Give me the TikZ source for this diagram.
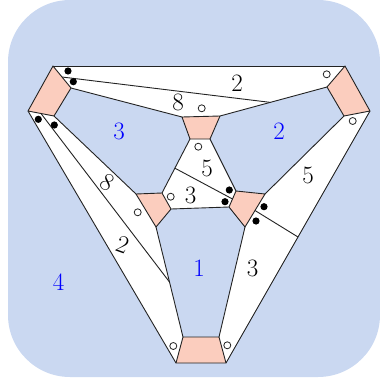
\documentclass[tikz,border=0pt]{standalone}
\usetikzlibrary{calc}
\definecolor{bgblue}{RGB}{202,216,241}
\definecolor{vpink}{RGB}{251,205,190}
\definecolor{edgecol}{RGB}{35,35,35}
\begin{document}
\begin{tikzpicture}[x=1pt,y=-1pt,
  edge/.style={draw=edgecol,line width=0.9pt,line join=round},
  vert/.style={fill=vpink,draw=edgecol,line width=0.9pt,line join=round},
  band/.style={fill=white},
  lab/.style={font=\fontsize{25}{30}\selectfont,inner sep=0pt},
  face/.style={font=\fontsize{25}{30}\selectfont,inner sep=0pt,text=blue},
  bdot/.style={fill=black,circle,inner sep=0pt,minimum size=7.2pt},
  odot/.style={draw=edgecol,fill=white,circle,line width=0.8pt,inner sep=0pt,minimum size=7pt}]
\useasboundingbox (0,0) rectangle (380,381);
\fill[bgblue,rounded corners=62pt] (8,0) rectangle (380,377);
% vertices
\coordinate (A1) at (53,66); \coordinate (A2) at (71,88);
\coordinate (A3) at (54,116); \coordinate (A4) at (28,111);
\coordinate (B1) at (345,66); \coordinate (B2) at (370,111);
\coordinate (B3) at (344,116); \coordinate (B4) at (327,87);
\coordinate (C1) at (183,337); \coordinate (C2) at (219,337);
\coordinate (C3) at (226,363); \coordinate (C4) at (176,363);
\coordinate (D1) at (182,117); \coordinate (D2) at (220,116);
\coordinate (D3) at (210,139); \coordinate (D4) at (190,139);
\coordinate (E1) at (136,194); \coordinate (E2) at (162,193);
\coordinate (E3) at (171,209); \coordinate (E4) at (156,227);
\coordinate (F1) at (229,207); \coordinate (F2) at (236,191);
\coordinate (F3) at (265,194); \coordinate (F4) at (245,227);
% split points
\coordinate (MA) at ($(A1)!0.5!(A2)$);
\coordinate (MAb) at ($(A3)!0.5!(A4)$);
\coordinate (MF) at ($(F1)!0.5!(F2)$);
\coordinate (MFb) at ($(F3)!0.5!(F4)$);
\coordinate (P) at ($(B4)!0.53!(D2)$);
\coordinate (Q) at ($(E4)!0.5!(C1)$);
\coordinate (R) at ($(B2)!0.5!(C3)$);
\coordinate (S) at ($(D4)!0.54!(E2)$);
% white bands
\fill[band] (A1) -- (B1) -- (B4) -- (D2) -- (D1) -- (A2) -- cycle;
\fill[band] (A4) -- (C4) -- (C1) -- (E4) -- (E1) -- (A3) -- cycle;
\fill[band] (B2) -- (C3) -- (C2) -- (F4) -- (F3) -- (B3) -- cycle;
\fill[band] (D4) -- (D3) -- (F2) -- (F1) -- (E3) -- (E2) -- cycle;
% band edges
\draw[edge] (A1) -- (B1);
\draw[edge] (B4) -- (D2);
\draw[edge] (A2) -- (D1);
\draw[edge] (MA) -- (P);
\draw[edge] (A4) -- (C4);
\draw[edge] (A3) -- (E1);
\draw[edge] (E4) -- (C1);
\draw[edge] (MAb) -- (Q);
\draw[edge] (B2) -- (C3);
\draw[edge] (B3) -- (F3);
\draw[edge] (F4) -- (C2);
\draw[edge] (MFb) -- (R);
\draw[edge] (D4) -- (E2);
\draw[edge] (D3) -- (F2);
\draw[edge] (E3) -- (F1);
\draw[edge] (MF) -- (S);
% vertex quads
\draw[vert] (A1) -- (A2) -- (A3) -- (A4) -- cycle;
\draw[vert] (B1) -- (B2) -- (B3) -- (B4) -- cycle;
\draw[vert] (C1) -- (C2) -- (C3) -- (C4) -- cycle;
\draw[vert] (D1) -- (D2) -- (D3) -- (D4) -- cycle;
\draw[vert] (E1) -- (E2) -- (E3) -- (E4) -- cycle;
\draw[vert] (F1) -- (F2) -- (F3) -- (F4) -- cycle;
% band labels
\node[lab] (l8t) at (178,102) {8};
\node[lab] (l2t) at (237,83) {2};
\node[lab,rotate=-30] (l8l) at (107,182) {8};
\node[lab,rotate=-20] (l2l) at (122.5,245) {2};
\node[lab] (l5r) at (308,175) {5};
\node[lab] (l3r) at (252.5,268) {3};
\node[lab] (l5i) at (207,168) {5};
\node[lab] (l3i) at (190.5,195) {3};
% face labels
\node[face] (f3) at (119,131) {3};
\node[face] (f2) at (279,131.5) {2};
\node[face] (f1) at (199,268) {1};
\node[face] (f4) at (58.5,282) {4};
% markers
\node[bdot] (d1) at (68,71) {};
\node[bdot] (d2) at (73.3,81.7) {};
\node[bdot] (d3) at (38.3,119.3) {};
\node[bdot] (d4) at (54.3,125) {};
\node[bdot] (d5) at (229.3,190) {};
\node[bdot] (d6) at (225,201.7) {};
\node[bdot] (d7) at (264,206.7) {};
\node[bdot] (d8) at (256,221) {};
\node[odot] (o1) at (201.7,108.3) {};
\node[odot] (o2) at (326.7,74.3) {};
\node[odot] (o3) at (198.3,146.7) {};
\node[odot] (o4) at (170.7,196.7) {};
\node[odot] (o5) at (137.7,212.3) {};
\node[odot] (o6) at (173.3,346) {};
\node[odot] (o7) at (227.3,345.3) {};
\node[odot] (o8) at (352.7,121) {};
\end{tikzpicture}
\end{document}
